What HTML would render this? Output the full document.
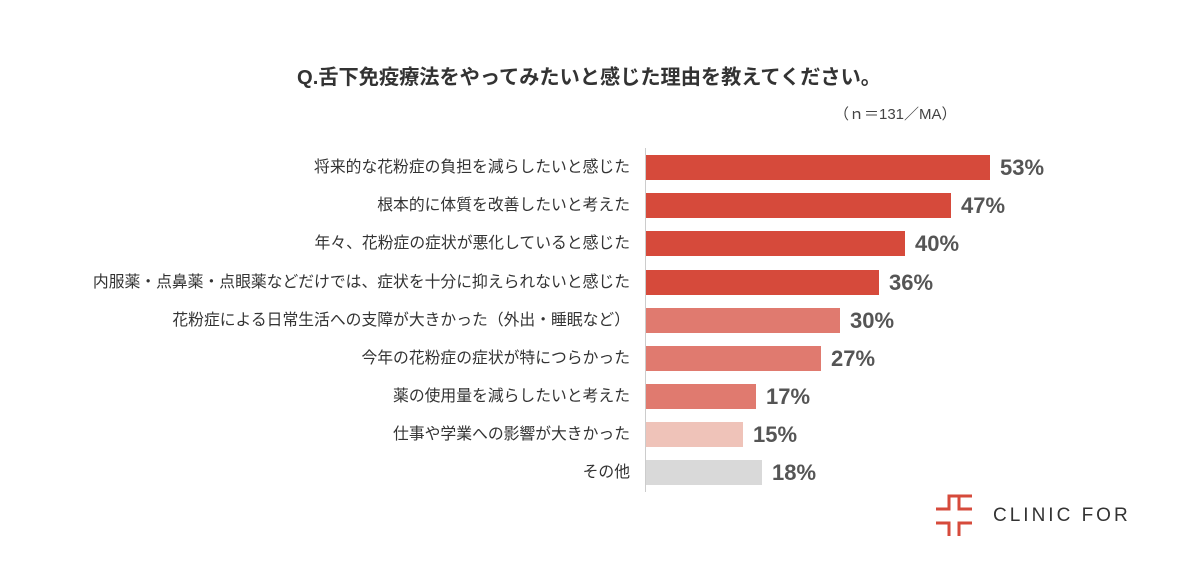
<!DOCTYPE html>
<html><head><meta charset="utf-8"><style>
body{margin:0;width:1190px;height:582px;background:#fff;position:relative;overflow:hidden;font-family:"Liberation Sans","Noto Sans CJK JP",sans-serif}
.t{position:absolute;left:0;width:1178px;text-align:center;top:61px;font-size:20.2px;font-weight:bold;color:#333}
.n{position:absolute;left:834px;top:103px;font-size:15px;color:#444}
.l{position:absolute;right:560px;font-size:15.8px;color:#333;white-space:nowrap;line-height:26px}
.b{position:absolute;left:646px;height:25px}
.p{position:absolute;font-size:22px;font-weight:bold;color:#555;line-height:26px}
.ax{position:absolute;left:645px;top:148px;width:1px;height:344px;background:#ccc}
</style></head><body>
<div class="t">Q.舌下免疫療法をやってみたいと感じた理由を教えてください。</div>
<div class="n">（ｎ＝131／MA）</div>
<div class="ax"></div>

<div class="l" style="top:155px">将来的な花粉症の負担を減らしたいと感じた</div>
<div class="b" style="top:155px;width:344px;background:#d64a3b"></div>
<div class="p" style="top:155px;left:1000px">53%</div>

<div class="l" style="top:193px">根本的に体質を改善したいと考えた</div>
<div class="b" style="top:193px;width:305px;background:#d64a3b"></div>
<div class="p" style="top:193px;left:961px">47%</div>

<div class="l" style="top:231px">年々、花粉症の症状が悪化していると感じた</div>
<div class="b" style="top:231px;width:259px;background:#d64a3b"></div>
<div class="p" style="top:231px;left:915px">40%</div>

<div class="l" style="top:270px">内服薬・点鼻薬・点眼薬などだけでは、症状を十分に抑えられないと感じた</div>
<div class="b" style="top:270px;width:233px;background:#d64a3b"></div>
<div class="p" style="top:270px;left:889px">36%</div>

<div class="l" style="top:308px">花粉症による日常生活への支障が大きかった（外出・睡眠など）</div>
<div class="b" style="top:308px;width:194px;background:#e07a6f"></div>
<div class="p" style="top:308px;left:850px">30%</div>

<div class="l" style="top:346px">今年の花粉症の症状が特につらかった</div>
<div class="b" style="top:346px;width:175px;background:#e07a6f"></div>
<div class="p" style="top:346px;left:831px">27%</div>

<div class="l" style="top:384px">薬の使用量を減らしたいと考えた</div>
<div class="b" style="top:384px;width:110px;background:#e07a6f"></div>
<div class="p" style="top:384px;left:766px">17%</div>

<div class="l" style="top:422px">仕事や学業への影響が大きかった</div>
<div class="b" style="top:422px;width:97px;background:#efc3b9"></div>
<div class="p" style="top:422px;left:753px">15%</div>

<div class="l" style="top:460px">その他</div>
<div class="b" style="top:460px;width:116px;background:#d9d9d9"></div>
<div class="p" style="top:460px;left:772px">18%</div>

<svg style="position:absolute;left:934px;top:493px" width="40" height="46" viewBox="0 0 40 46">
<g stroke="#d64a3b" stroke-width="3" fill="none">
<path d="M2 16H15V3H38"/><path d="M25 3V16H38"/>
<path d="M2 30H15V43"/><path d="M25 43V30H38"/>
</g></svg>
<div style="position:absolute;left:993px;top:505px;font-size:19px;letter-spacing:3px;color:#333">CLINIC FOR</div>
</body></html>
